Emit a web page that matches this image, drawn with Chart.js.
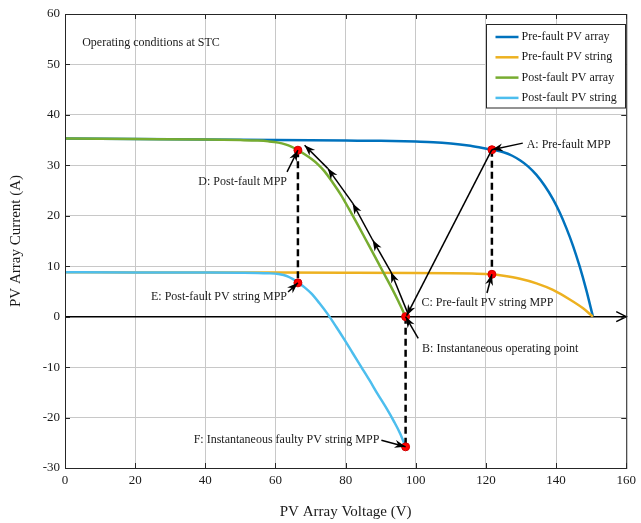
<!DOCTYPE html>
<html>
<head>
<meta charset="utf-8">
<script src="https://cdn.jsdelivr.net/npm/chart.js@4.4.0/dist/chart.umd.min.js"></script>
<style>
html, body { margin: 0; padding: 0; background: #fff; }
#wrap { width: 641px; height: 523px; }
</style>
</head>
<body>
<div id="wrap"><canvas id="pvChart" width="641" height="523"></canvas></div>
<script>
// I-V curves (voltage in V, current in A)
var vPreArray = [0, 20, 40, 60, 80, 90, 100, 105, 110, 115, 118, 121.7, 125, 127.5, 129.7, 132, 134.4, 136.8, 139.1, 141, 142.9, 144.8, 146.7, 148.6, 150.5];
var iPreArray = [35.3, 35.2, 35.1, 35.0, 34.9, 34.85, 34.7, 34.6, 34.35, 33.95, 33.6, 33.1, 32.6, 31.9, 31.0, 29.8, 28.1, 25.9, 23.3, 20.7, 17.6, 14.1, 10.0, 5.3, 0];

var vPreString = [0, 20, 40, 60, 80, 100, 110, 116, 121.7, 125, 129.7, 134.4, 139.1, 143.9, 147.6, 150.5];
var iPreString = [8.8, 8.78, 8.76, 8.74, 8.72, 8.68, 8.62, 8.54, 8.4, 8.1, 7.5, 6.6, 5.3, 3.4, 1.7, 0];

var vPostArray = [0, 20, 40, 50, 55, 58, 60.8, 62.8, 64.5, 66.4, 68.3, 70.2, 72.1, 74, 76.3, 78.7, 81, 83.4, 85.8, 88.2, 90.5, 92.9, 95, 97.1];
var iPostArray = [35.3, 35.2, 35.1, 35.0, 34.9, 34.75, 34.5, 34.15, 33.7, 33.0, 32.2, 31.3, 30.2, 28.8, 26.6, 24.1, 21.3, 18.3, 15.2, 12.1, 9.1, 6.0, 3.1, 0];

var vPostString = [0, 20, 40, 50, 55, 58, 60.8, 62.3, 63.6, 65, 66.4, 68.3, 70.2, 72.5, 74.9, 77.3, 79.7, 82, 84.4, 86.8, 89.1, 91.5, 93.8, 95.5, 97.1];
var iPostString = [8.8, 8.78, 8.75, 8.72, 8.68, 8.6, 8.45, 8.25, 7.95, 7.45, 6.8, 5.8, 4.6, 2.7, 0.5, -2.0, -4.6, -7.2, -9.9, -12.6, -15.3, -18.0, -20.8, -23.1, -25.8];

var seriesNames = ['Pre-fault PV array', 'Pre-fault PV string', 'Post-fault PV array', 'Post-fault PV string'];
var seriesColors = ['#0072BD', '#EDB120', '#77AC30', '#4DBEEE'];

// operating points A..F
var pointV = [121.7, 97.1, 121.7, 66.4, 66.4, 97.1];
var pointI = [33.1, 0, 8.4, 33.0, 6.7, -25.8];
var pointText = ['A: Pre-fault MPP', 'B: Instantaneous operating point', 'C: Pre-fault PV string MPP',
                 'D: Post-fault MPP', 'E: Post-fault PV string MPP', 'F: Instantaneous faulty PV string MPP'];

var xTicks = [0, 20, 40, 60, 80, 100, 120, 140, 160];
var yTicks = [-30, -20, -10, 0, 10, 20, 30, 40, 50, 60];

// annotation layout (data units): label anchor, alignment, arrow tail
var labelPos = [
  {v: 131.6, i: 34.0, align: 'left',  tv: 130.5, ti: 34.4},
  {v: 101.8, i: -6.3, align: 'left',  tv: 100.7, ti: -4.3},
  {v: 101.6, i: 2.7,  align: 'left',  tv: 120.3, ti: 4.7},
  {v: 63.3,  i: 26.7, align: 'right', tv: 63.3,  ti: 28.7},
  {v: 63.3,  i: 3.9,  align: 'right', tv: 63.6,  ti: 4.9},
  {v: 89.6,  i: -24.5, align: 'right', tv: 90.2, ti: -24.5}
];
// tracking path B -> D drawn with arrowheads
var pathV = [97.6, 92.9, 87.7, 82.0, 74.9, 68.3];
var pathI = [0.9, 8.9, 15.2, 22.5, 29.4, 34.0];
var dashPairs = [[3, 4], [0, 2], [1, 5]];

var FONT = "'Liberation Serif', 'Times New Roman', serif";
var TXT = '#1a1a1a';

function pts(xs, ys) {
  return xs.map(function (x, k) { return {x: x, y: ys[k]}; });
}

var curves = [pts(vPreArray, iPreArray), pts(vPreString, iPreString), pts(vPostArray, iPostArray), pts(vPostString, iPostString)];
var curveOrder = [5, 4, 3, 2];

var datasets = curves.map(function (d, k) {
  return {
    label: seriesNames[k], data: d, showLine: true, borderColor: seriesColors[k],
    backgroundColor: seriesColors[k], borderWidth: 2.5, pointRadius: 0,
    cubicInterpolationMode: 'monotone', order: curveOrder[k]
  };
});

dashPairs.forEach(function (p) {
  datasets.push({
    label: 'dash', data: [{x: pointV[p[0]], y: pointI[p[0]]}, {x: pointV[p[1]], y: pointI[p[1]]}],
    showLine: true, borderColor: '#000', borderWidth: 2.5, borderDash: [7, 4], pointRadius: 0, order: 1
  });
});

datasets.push({
  label: 'zero', data: [{x: 0, y: 0}, {x: 160, y: 0}], showLine: true,
  borderColor: '#000', borderWidth: 1.5, pointRadius: 0, order: 6
});

datasets.push({
  label: 'points', data: pts(pointV, pointI), showLine: false,
  pointRadius: 4, backgroundColor: '#ff0000', borderColor: '#d00000', borderWidth: 1, order: 0
});

function head(ctx, x1, y1, x2, y2, len, half) {
  var a = Math.atan2(y2 - y1, x2 - x1);
  ctx.save();
  ctx.translate(x2, y2);
  ctx.rotate(a);
  ctx.beginPath();
  ctx.moveTo(0, 0);
  ctx.lineTo(-len, -half);
  ctx.lineTo(-len * 0.7, 0);
  ctx.lineTo(-len, half);
  ctx.closePath();
  ctx.fill();
  ctx.restore();
}

function arrow(ctx, x1, y1, x2, y2) {
  ctx.beginPath();
  ctx.moveTo(x1, y1);
  ctx.lineTo(x2, y2);
  ctx.stroke();
  head(ctx, x1, y1, x2, y2, 11, 4);
}

var decor = {
  id: 'decor',
  beforeDraw: function (chart) {
    var ctx = chart.ctx;
    ctx.save();
    ctx.fillStyle = '#fff';
    ctx.fillRect(0, 0, chart.width, chart.height);
    ctx.restore();
  },
  afterDatasetsDraw: function (chart) {
    var ctx = chart.ctx, sx = chart.scales.x, sy = chart.scales.y;
    ctx.save();
    ctx.strokeStyle = '#000';
    ctx.fillStyle = '#000';
    ctx.lineWidth = 1.5;

    // arrow at the end of the zero line
    var ex = sx.getPixelForValue(160), ey = sy.getPixelForValue(0);
    ctx.beginPath();
    ctx.moveTo(ex - 10, ey - 5);
    ctx.lineTo(ex, ey);
    ctx.lineTo(ex - 10, ey + 5);
    ctx.stroke();

    // A -> B jump
    arrow(ctx, sx.getPixelForValue(pointV[0]), sy.getPixelForValue(pointI[0]),
      sx.getPixelForValue(pointV[1]) + 1, sy.getPixelForValue(pointI[1]) - 1);

    // B -> D tracking path
    for (var k = 1; k < pathV.length; k++) {
      arrow(ctx, sx.getPixelForValue(pathV[k - 1]), sy.getPixelForValue(pathI[k - 1]),
        sx.getPixelForValue(pathV[k]), sy.getPixelForValue(pathI[k]));
    }

    // labels with pointer arrows
    ctx.font = '12px ' + FONT;
    ctx.textBaseline = 'middle';
    labelPos.forEach(function (l, k) {
      arrow(ctx, sx.getPixelForValue(l.tv), sy.getPixelForValue(l.ti),
        sx.getPixelForValue(pointV[k]), sy.getPixelForValue(pointI[k]));
      ctx.fillStyle = TXT;
      ctx.textAlign = l.align;
      ctx.fillText(pointText[k], sx.getPixelForValue(l.v), sy.getPixelForValue(l.i));
      ctx.fillStyle = '#000';
    });

    ctx.textAlign = 'left';
    ctx.fillStyle = TXT;
    ctx.fillText('Operating conditions at STC', sx.getPixelForValue(4.9), sy.getPixelForValue(54.3));
    ctx.restore();
  },
  afterDraw: function (chart) {
    var ctx = chart.ctx, sx = chart.scales.x, sy = chart.scales.y, a = chart.chartArea;
    ctx.save();
    // axes box with inward ticks
    ctx.strokeStyle = '#262626';
    ctx.lineWidth = 1;
    ctx.strokeRect(a.left + 0.5, a.top + 0.5, a.right - a.left, a.bottom - a.top);
    ctx.beginPath();
    xTicks.forEach(function (v) {
      var x = Math.round(sx.getPixelForValue(v)) + 0.5;
      ctx.moveTo(x, a.bottom); ctx.lineTo(x, a.bottom - 5);
      ctx.moveTo(x, a.top); ctx.lineTo(x, a.top + 5);
    });
    yTicks.forEach(function (v) {
      var y = Math.round(sy.getPixelForValue(v)) + 0.5;
      ctx.moveTo(a.left, y); ctx.lineTo(a.left + 5, y);
      ctx.moveTo(a.right, y); ctx.lineTo(a.right - 5, y);
    });
    ctx.stroke();

    // legend box
    var lx = 486.5, ly = 24.5, lw = 139, lh = 83.5;
    ctx.fillStyle = '#fff';
    ctx.fillRect(lx, ly, lw, lh);
    ctx.strokeStyle = '#262626';
    ctx.strokeRect(lx, ly, lw, lh);
    ctx.font = '12px ' + FONT;
    ctx.textBaseline = 'middle';
    ctx.textAlign = 'left';
    seriesNames.forEach(function (name, k) {
      var y = ly + 12.5 + k * 20.3;
      ctx.strokeStyle = seriesColors[k];
      ctx.lineWidth = 2.5;
      ctx.beginPath();
      ctx.moveTo(lx + 9, y);
      ctx.lineTo(lx + 32, y);
      ctx.stroke();
      ctx.fillStyle = TXT;
      ctx.fillText(name, lx + 35, y);
    });
    ctx.restore();
  }
};

new Chart(document.getElementById('pvChart').getContext('2d'), {
  type: 'scatter',
  data: {datasets: datasets},
  options: {
    responsive: false,
    animation: false,
    layout: {padding: {top: 14, right: 11, left: 0, bottom: 0}},
    plugins: {legend: {display: false}, tooltip: {enabled: false}},
    scales: {
      x: {
        type: 'linear', min: 0, max: 160,
        afterBuildTicks: function (s) { s.ticks = xTicks.map(function (v) { return {value: v}; }); },
        afterFit: function (s) { s.height = 55; },
        grid: {color: '#c8c8c8', drawTicks: false},
        border: {display: false},
        ticks: {padding: 5, color: TXT, font: {family: FONT, size: 13}, maxRotation: 0},
        title: {display: true, text: 'PV Array Voltage (V)', color: TXT, font: {family: FONT, size: 15}, padding: {top: 0, bottom: 2}}
      },
      y: {
        type: 'linear', min: -30, max: 60,
        afterBuildTicks: function (s) { s.ticks = yTicks.map(function (v) { return {value: v}; }); },
        afterFit: function (s) { s.width = 65; },
        grid: {color: '#c8c8c8', drawTicks: false},
        border: {display: false},
        ticks: {padding: 5, color: TXT, font: {family: FONT, size: 13}},
        title: {display: true, text: 'PV Array Current (A)', color: TXT, font: {family: FONT, size: 15}, padding: {top: 7, bottom: 0}}
      }
    }
  },
  plugins: [decor]
});
</script>
</body>
</html>
